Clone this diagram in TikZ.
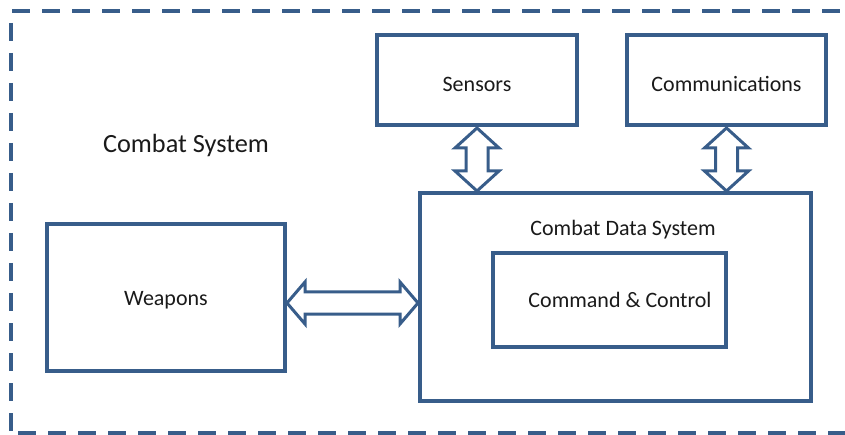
\documentclass[tikz,border=0pt]{standalone}
\usepackage{fontspec}
\setmainfont{Carlito}
\usetikzlibrary{calc}
\definecolor{bord}{HTML}{385D8A}
\definecolor{txt}{HTML}{1A1A1A}
\tikzset{
  box/.style={draw=bord, line width=4pt, fill=white, inner sep=0pt, outer sep=0pt, font=\fontsize{22}{26}\selectfont, text=txt},
  lbl/.style={inner sep=0pt, font=\fontsize{22}{26}\selectfont, text=txt},
  title/.style={inner sep=0pt, font=\fontsize{26.3}{30}\selectfont, text=txt},
  frame/.style={draw=bord, line width=4pt, dash pattern=on 18pt off 12pt},
  dblarr/.style={draw=bord, line width=3pt, fill=white, line join=miter}
}
\begin{document}
\begin{tikzpicture}[x=1pt, y=-1pt]
\useasboundingbox (0,0) rectangle (845,435);
% dashed frame
\draw[frame] (12,11) -- (860,11);
\draw[frame] (11,23) -- (11,440);
\draw[frame] (18,433) -- (860,433);
% boxes
\node[box, minimum width=200pt, minimum height=90pt] (sens) at (477,80) {};
\node[lbl] (senst) at (477,84) {Sensors};
\node[box, minimum width=199pt, minimum height=90pt] (comm) at (726.5,80) {};
\node[lbl] (commt) at (726.5,84) {Communications};
\node[box, minimum width=238pt, minimum height=147pt] (wea) at (166,297.5) {};
\node[lbl] (weat) at (166,300) {Weapons};
\node[box, minimum width=391pt, minimum height=208pt] (cds) at (615.5,297) {};
\node[lbl] (cdst) at (623,229.5) {Combat Data System};
\node[box, minimum width=233pt, minimum height=94pt] (cc) at (609.5,300) {};
\node[lbl] (cct) at (620,300) {Command \& Control};
\node[title] (cs) at (186,145) {Combat System};
% vertical double arrows
\foreach \top/\bot in {sens/cds, comm/cds} {
  \path (\top.south) coordinate (t) (\top.south |- \bot.north) coordinate (b);
  \draw[dblarr] ($(t)+(0,3)$) -- ++(22,20) -- ++(-11,0) -- ($(b)+(11,-22)$) -- ++(11,0) -- ($(b)+(0,-2)$)
     -- ++(-22,-20) -- ++(11,0) -- ($(t)+(-11,23)$) -- ++(-11,0) -- cycle;
}
% horizontal double arrow
\coordinate (l) at (wea.east |- 0,303);
\coordinate (r) at (cds.west |- 0,303);
\draw[dblarr] ($(l)+(2,0)$) -- ++(18,-21) -- ++(0,10) -- ($(r)+(-20,-11)$) -- ++(0,-10) -- ($(r)+(-2,0)$)
   -- ++(-18,21) -- ++(0,-10) -- ($(l)+(20,11)$) -- ++(0,10) -- cycle;
\end{tikzpicture}
\end{document}
